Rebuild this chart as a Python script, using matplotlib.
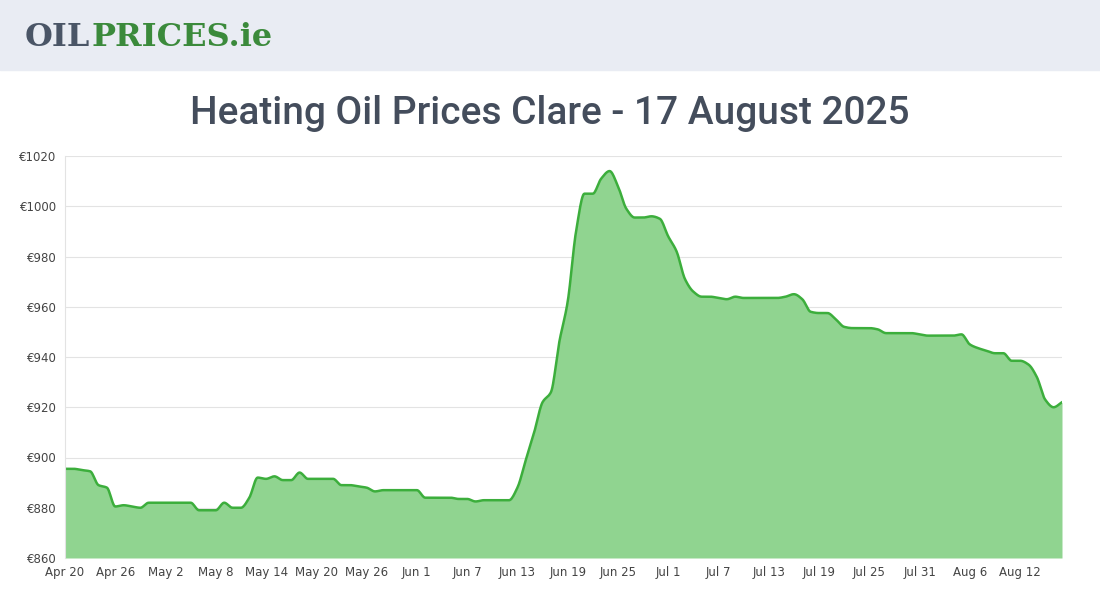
import matplotlib.pyplot as plt
import numpy as np
import pandas as pd

# daily prices, Apr 20 - Aug 17 2025
apr = [895.5, 895.5, 895, 894.5, 889, 888, 880.5, 881, 880.5, 880, 882]
may = [882, 882, 882, 882, 882, 879, 879, 879, 882, 880, 880, 884, 892, 891.5,
       892.5, 891, 891, 894, 891.5, 891.5, 891.5, 891.5, 889, 889, 888.5, 888,
       886.5, 887, 887, 887, 887]
jun = [887, 884, 884, 884, 884, 883.5, 883.5, 882.5, 883, 883, 883, 883, 888,
       899, 910, 922, 926, 946, 962, 990, 1005, 1005, 1011, 1014, 1008, 999,
       995.5, 995.5, 996, 995]
jul = [988, 982, 971, 966, 964, 964, 963.5, 963, 964, 963.5, 963.5, 963.5,
       963.5, 963.5, 964, 965, 963, 958, 957.5, 957.5, 955, 952, 951.5, 951.5,
       951.5, 951, 949.5, 949.5, 949.5, 949.5, 949]
aug = [948.5, 948.5, 948.5, 948.5, 949, 945, 943.5, 942.5, 941.5, 941.5, 938.5,
       938.5, 937, 932, 923, 920, 922]
prices = np.array(apr + may + jun + jul + aug, dtype=float)
dates = pd.date_range("2025-04-20", periods=len(prices), freq="D")
tick_idx = list(range(0, len(prices), 6))
tick_labels = [d.strftime("%b %-d") for d in dates[tick_idx]]
y_ticks = list(range(860, 1021, 20))


def monotone(x, y, n=12):
    d = np.diff(y) / np.diff(x)
    m = np.zeros_like(y)
    m[0], m[-1] = d[0], d[-1]
    for i in range(1, len(y) - 1):
        if d[i - 1] * d[i] > 0:
            m[i] = 2 / (1 / d[i - 1] + 1 / d[i])
    xs, ys = [], []
    for i in range(len(x) - 1):
        h = x[i + 1] - x[i]
        t = np.linspace(0, 1, n, endpoint=False)
        h00 = 2 * t**3 - 3 * t**2 + 1
        h10 = t**3 - 2 * t**2 + t
        h01 = -2 * t**3 + 3 * t**2
        h11 = t**3 - t**2
        xs.append(x[i] + t * h)
        ys.append(h00 * y[i] + h10 * h * m[i] + h01 * y[i + 1] + h11 * h * m[i + 1])
    xs.append([x[-1]])
    ys.append([y[-1]])
    return np.concatenate(xs), np.concatenate(ys)


x = np.arange(len(prices), dtype=float)
sx, sy = monotone(x, prices)

fig = plt.figure(figsize=(11, 6), dpi=100)
fig.patches.append(plt.Rectangle((0, 1 - 70 / 600), 1, 70 / 600, transform=fig.transFigure,
                                 color="#e9ecf3", zorder=0))
fig.text(0.022, 0.937, "OIL", fontsize=23, fontweight="bold", family="DejaVu Serif",
         color="#4a5566", va="center")
fig.text(0.083, 0.937, "PRICES.ie", fontsize=23, fontweight="bold", family="DejaVu Serif",
         color="#3b8a3b", va="center")
fig.text(0.5, 0.81, "Heating Oil Prices Clare - 17 August 2025", ha="center", va="center",
         fontsize=28, color="#444d5c", family=["Liberation Sans Narrow", "Roboto"],
         fontweight="medium")

ax = fig.add_axes([65 / 1100, 0.07, (1062 - 65) / 1100, 0.67])
ax.fill_between(sx, sy, 860, color="#90d490", lw=0)
ax.plot(sx, sy, color="#3cae3c", lw=1.8)
ax.set_xlim(0, len(prices) - 1)
ax.set_ylim(860, 1020)
ax.set_yticks(y_ticks)
ax.set_yticklabels([f"€{v}" for v in y_ticks])
ax.set_xticks(tick_idx)
ax.set_xticklabels(tick_labels)
ax.tick_params(labelsize=8.5, colors="#444444", length=0, pad=6)
ax.grid(axis="y", color="#e3e3e3", lw=0.8)
for s in ["top", "right", "bottom"]:
    ax.spines[s].set_visible(False)
ax.spines["left"].set_color("#e3e3e3")
ax.set_axisbelow(True)

fig.savefig("out.png", dpi=100)
